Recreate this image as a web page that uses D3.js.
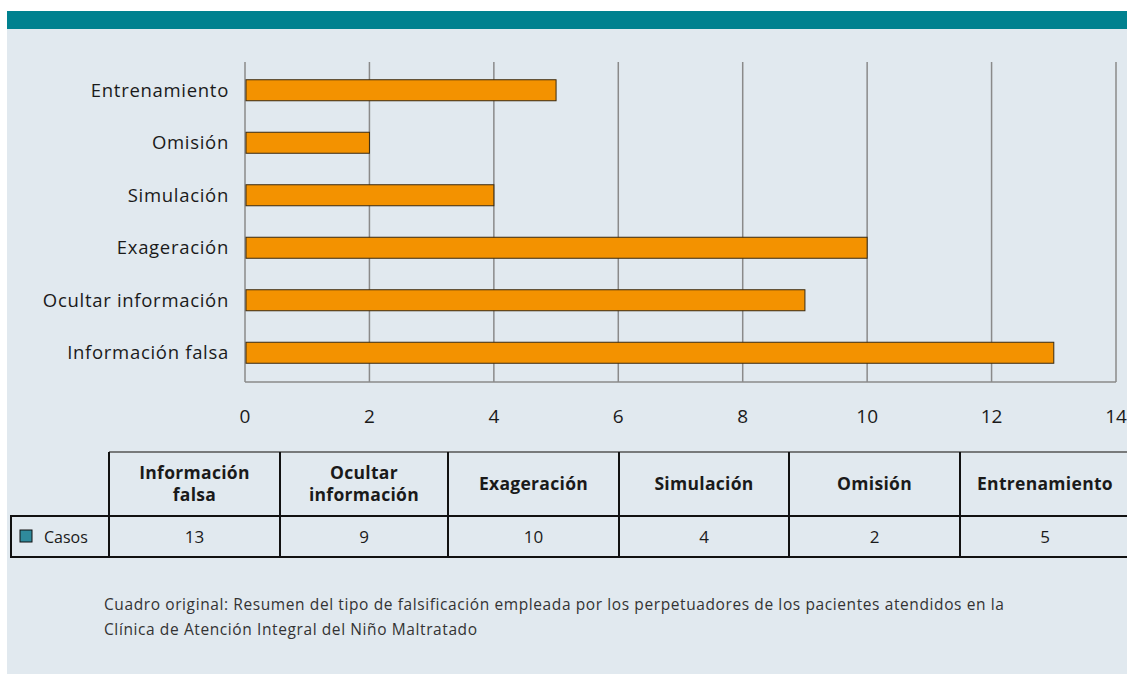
<!DOCTYPE html>
<html>
<head>
<meta charset="utf-8">
<script src="https://cdn.jsdelivr.net/npm/d3@7"></script>
<style>
  body { margin: 0; background: #fff; }
  text { font-family: "Open Sans", Lato, sans-serif; }
</style>
</head>
<body>
<div id="chart-area"></div>
<script>
// data
var categories = ["Información falsa", "Ocultar información", "Exageración", "Simulación", "Omisión", "Entrenamiento"];
var headerLines = [["Información", "falsa"], ["Ocultar", "información"], ["Exageración"], ["Simulación"], ["Omisión"], ["Entrenamiento"]];
var casos = [13, 9, 10, 4, 2, 5];
var xTicks = [0, 2, 4, 6, 8, 10, 12, 14];
var seriesName = "Casos";
var captionLines = [
	"Cuadro original: Resumen del tipo de falsificación empleada por los perpetuadores de los pacientes atendidos en la",
	"Clínica de Atención Integral del Niño Maltratado"
];

var W = 1127, H = 675;

var svg = d3.select("#chart-area")
	.append("svg")
		.attr("width", W)
		.attr("height", H);

// panel + header bar
svg.append("rect").attr("x", 7).attr("y", 11).attr("width", W - 7).attr("height", 663).attr("fill", "#e1e9ef");
svg.append("rect").attr("x", 7).attr("y", 11).attr("width", W - 7).attr("height", 18).attr("fill", "#00818f");

//scales
var x = d3.scaleLinear()
	.domain([0, 14])
	.range([245, 1116]);

var y = d3.scaleBand()
	.domain(categories.slice().reverse())
	.range([64, 379])
	.paddingInner(0.6)
	.paddingOuter(0.3);

// gridlines
svg.append("g").selectAll("line")
	.data(xTicks)
	.enter().append("line")
		.attr("x1", function(d){ return x(d); })
		.attr("x2", function(d){ return x(d); })
		.attr("y1", 62)
		.attr("y2", 382)
		.attr("stroke", "#8a8a8a")
		.attr("stroke-width", 1.5);

svg.append("line")
	.attr("x1", x(0)).attr("x2", x(14))
	.attr("y1", 382).attr("y2", 382)
	.attr("stroke", "#8a8a8a").attr("stroke-width", 1.5);

// bars
svg.append("g").selectAll("rect")
	.data(casos)
	.enter().append("rect")
		.attr("x", x(0) + 1)
		.attr("y", function(d, i){ return y(categories[i]); })
		.attr("width", function(d){ return x(d) - x(0) - 1; })
		.attr("height", y.bandwidth())
		.attr("fill", "#f39200")
		.attr("stroke", "#3a2a10")
		.attr("stroke-width", 1);

// category labels
svg.append("g").selectAll("text")
	.data(categories)
	.enter().append("text")
		.attr("x", 229)
		.attr("y", function(d){ return y(d) + y.bandwidth() / 2; })
		.attr("dy", "0.35em")
		.attr("text-anchor", "end")
		.attr("font-size", "18.5px")
		.attr("letter-spacing", "0.7px")
		.attr("fill", "#1a1a1a")
		.text(function(d){ return d; });

// x tick labels
svg.append("g").selectAll("text")
	.data(xTicks)
	.enter().append("text")
		.attr("x", function(d){ return x(d); })
		.attr("y", 423)
		.attr("text-anchor", "middle")
		.attr("font-size", "19px")
		.attr("font-family", "'Liberation Serif', serif")
		.attr("fill", "#1a1a1a")
		.text(function(d){ return d; });

// data table
var colX = [109, 280, 448, 619, 789, 960, 1130];
var headTop = 452, rowTop = 516, rowBot = 557;
var table = svg.append("g");

table.selectAll("text.head")
	.data(headerLines)
	.enter().append("text")
		.attr("class", "head")
		.attr("text-anchor", "middle")
		.attr("font-size", "17.5px")
		.attr("letter-spacing", "0.3px")
		.attr("font-weight", "bold")
		.attr("fill", "#1a1a1a")
		.each(function(lines, i){
			var cx = (colX[i] + colX[i + 1]) / 2;
			var cy = (headTop + rowTop) / 2;
			var t = d3.select(this);
			lines.forEach(function(l, j){
				t.append("tspan")
					.attr("x", cx)
					.attr("y", cy + (j - (lines.length - 1) / 2) * 22 + 6)
					.text(l);
			});
		});

table.selectAll("text.val")
	.data(casos)
	.enter().append("text")
		.attr("class", "val")
		.attr("x", function(d, i){ return (colX[i] + colX[i + 1]) / 2; })
		.attr("y", (rowTop + rowBot) / 2 + 6)
		.attr("text-anchor", "middle")
		.attr("font-size", "17px")
		.attr("fill", "#1a1a1a")
		.text(function(d){ return d; });

// table lines
table.append("line").attr("x1", colX[0]).attr("x2", W).attr("y1", headTop).attr("y2", headTop)
	.attr("stroke", "#555").attr("stroke-width", 1.5);
table.append("line").attr("x1", 10).attr("x2", W).attr("y1", rowTop).attr("y2", rowTop)
	.attr("stroke", "#111").attr("stroke-width", 2);
table.append("line").attr("x1", 10).attr("x2", W).attr("y1", rowBot).attr("y2", rowBot)
	.attr("stroke", "#111").attr("stroke-width", 2);
table.append("line").attr("x1", 11).attr("x2", 11).attr("y1", rowTop).attr("y2", rowBot)
	.attr("stroke", "#111").attr("stroke-width", 2);
table.selectAll("line.col")
	.data(colX.slice(0, 6))
	.enter().append("line")
		.attr("class", "col")
		.attr("x1", function(d){ return d; })
		.attr("x2", function(d){ return d; })
		.attr("y1", headTop)
		.attr("y2", rowBot)
		.attr("stroke", "#111")
		.attr("stroke-width", 2);

// legend key in table
table.append("rect")
	.attr("x", 20).attr("y", 530).attr("width", 12).attr("height", 12)
	.attr("fill", "#2f8a9c").attr("stroke", "#111").attr("stroke-width", 1);
table.append("text")
	.attr("x", 44).attr("y", 543)
	.attr("font-size", "16px")
	.attr("fill", "#1a1a1a")
	.text(seriesName);

// caption
svg.append("g").selectAll("text")
	.data(captionLines)
	.enter().append("text")
		.attr("x", 104)
		.attr("y", function(d, i){ return 610 + i * 25; })
		.attr("font-size", "15.5px")
		.attr("letter-spacing", "0.6px")
		.attr("fill", "#333")
		.text(function(d){ return d; });
</script>
</body>
</html>
